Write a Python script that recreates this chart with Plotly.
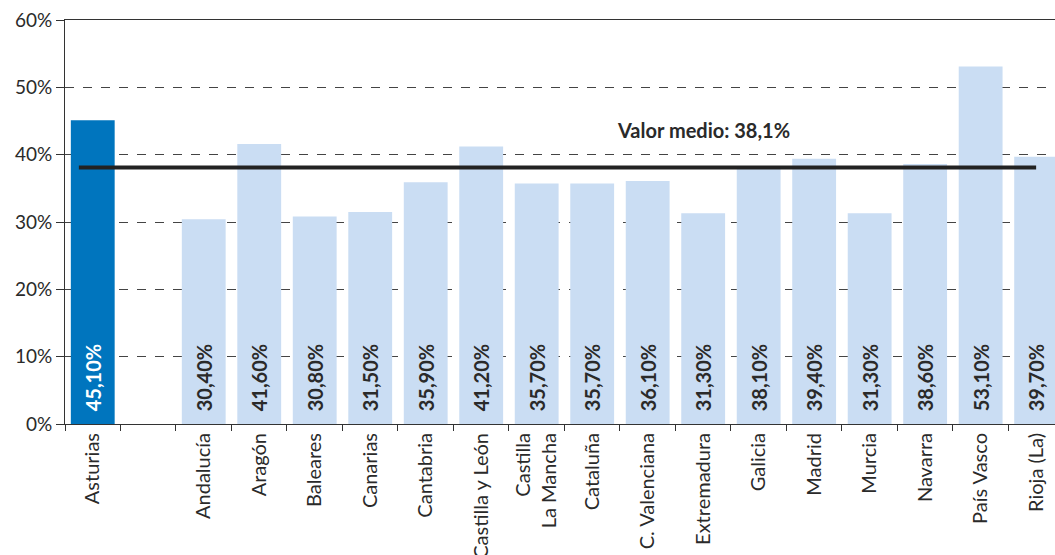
import plotly.graph_objects as go

categories = ["Asturias", " ", "Andalucía", "Aragón", "Baleares", "Canarias", "Cantabria",
              "Castilla y León", "Castilla<br>La Mancha", "Cataluña", "C. Valenciana",
              "Extremadura", "Galicia", "Madrid", "Murcia", "Navarra", "País Vasco", "Rioja (La)"]
values = [45.1, None, 30.4, 41.6, 30.8, 31.5, 35.9, 41.2, 35.7, 35.7, 36.1,
          31.3, 38.1, 39.4, 31.3, 38.6, 53.1, 39.7]
labels = ["45,10%", "", "30,40%", "41,60%", "30,80%", "31,50%", "35,90%", "41,20%", "35,70%",
          "35,70%", "36,10%", "31,30%", "38,10%", "39,40%", "31,30%", "38,60%", "53,10%", "39,70%"]
mean_value = 38.1
mean_label = "Valor medio: 38,1%"

colors = ["#0075BE" if i == 0 else "#CADDF3" for i in range(len(categories))]
text_colors = ["#FFFFFF" if i == 0 else "#2A2A2A" for i in range(len(categories))]

FONT = "Lato, 'Noto Sans', sans-serif"

fig = go.Figure()
fig.add_trace(go.Bar(
    x=categories, y=values, marker=dict(color=colors, line=dict(width=0)),
    text=labels, texttemplate="\u00a0\u00a0%{text}",
    textposition="inside", insidetextanchor="start", textangle=-90,
    textfont=dict(family=FONT, size=20, color=text_colors, weight="bold"),
    cliponaxis=True, hoverinfo="skip",
))

fig.add_shape(type="line", xref="x", yref="y", x0=-0.25, x1=len(categories) - 1,
              y0=mean_value, y1=mean_value, line=dict(color="#222222", width=4))

fig.add_annotation(x=11, y=mean_value + 5.6, xref="x", yref="y", text="<b>" + mean_label + "</b>",
                   showarrow=False, font=dict(family=FONT, size=20, color="#2A2A2A"))

fig.update_layout(
    width=1055, height=555,
    margin=dict(l=65, r=0, t=20, b=131),
    paper_bgcolor="white", plot_bgcolor="white",
    showlegend=False, bargap=0.21,
    font=dict(family=FONT, color="#2A2A2A"),
)
fig.update_xaxes(
    type="category", categoryorder="array", categoryarray=categories,
    range=[-0.5, 17.34], tickson="boundaries", ticks="outside", ticklen=6,
    tickcolor="#333333", showline=True, linecolor="#333333", linewidth=1, mirror=True,
    tickangle=-90, tickfont=dict(family=FONT, size=20, color="#2A2A2A"), showgrid=False,
    automargin=False,
)
fig.update_yaxes(
    range=[0, 60], dtick=10, ticksuffix="%", ticks="outside", ticklen=8,
    tickcolor="#333333", showline=True, linecolor="#333333", linewidth=1,
    showgrid=True, gridcolor="#444444", gridwidth=1, griddash="dash",
    tickfont=dict(family=FONT, size=19, color="#2A2A2A"), zeroline=False,
    automargin=False,
)

fig.write_html("out.html", config={"displayModeBar": False},
               post_script="document.body.style.margin='0';document.body.style.overflow='hidden';")
